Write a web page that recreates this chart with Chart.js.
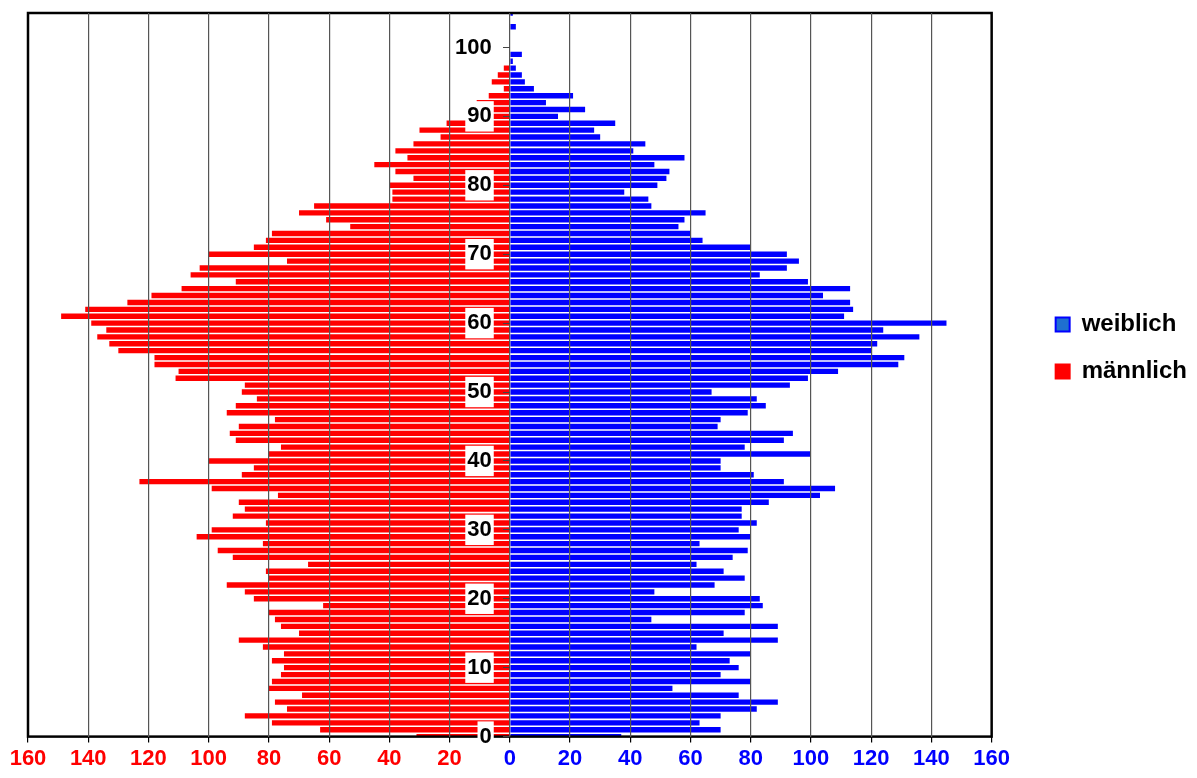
<!DOCTYPE html>
<html lang="de">
<head>
<meta charset="utf-8">
<title>Alterspyramide</title>
<script src="https://cdn.jsdelivr.net/npm/chart.js@4.4.1/dist/chart.umd.min.js"></script>
<style>
    html, body { margin: 0; padding: 0; background: #fff; }
    #wrap { position: relative; width: 1197px; height: 778px; }
</style>
</head>
<body>
<div id="wrap"><canvas id="pyramid"></canvas></div>
<script>
/* Alterspyramide: Einwohner je Altersjahr, Männer links, Frauen rechts. */

const AGES = [
    0, 1, 2, 3, 4, 5, 6, 7, 8, 9,
    10, 11, 12, 13, 14, 15, 16, 17, 18, 19,
    20, 21, 22, 23, 24, 25, 26, 27, 28, 29,
    30, 31, 32, 33, 34, 35, 36, 37, 38, 39,
    40, 41, 42, 43, 44, 45, 46, 47, 48, 49,
    50, 51, 52, 53, 54, 55, 56, 57, 58, 59,
    60, 61, 62, 63, 64, 65, 66, 67, 68, 69,
    70, 71, 72, 73, 74, 75, 76, 77, 78, 79,
    80, 81, 82, 83, 84, 85, 86, 87, 88, 89,
    90, 91, 92, 93, 94, 95, 96, 97, 98, 99,
    100, 101, 102, 103, 104, 105,
];

const WEIBLICH = [
    37, 70, 63, 70, 82, 89, 76, 54, 80, 70,
    76, 73, 80, 62, 89, 71, 89, 47, 78, 84,
    83, 48, 68, 78, 71, 62, 74, 79, 63, 80,
    76, 82, 77, 77, 86, 103, 108, 91, 81, 70,
    70, 100, 78, 91, 94, 69, 70, 79, 85, 82,
    67, 93, 99, 109, 129, 131, 120, 122, 136, 124,
    145, 111, 114, 113, 104, 113, 99, 83, 92, 96,
    92, 80, 64, 60, 56, 58, 65, 47, 46, 38,
    49, 52, 53, 48, 58, 41, 45, 30, 28, 35,
    16, 25, 12, 21, 8, 5, 4, 2, 1, 4,
    0, 0, 0, 2, 0, 1,
];

const MAENNLICH = [
    31, 63, 79, 88, 74, 78, 69, 80, 79, 76,
    75, 79, 75, 82, 90, 70, 76, 78, 80, 62,
    85, 88, 94, 80, 81, 67, 92, 97, 82, 104,
    99, 81, 92, 88, 90, 77, 99, 123, 89, 85,
    100, 80, 76, 91, 93, 90, 78, 94, 91, 84,
    89, 88, 111, 110, 118, 118, 130, 133, 137, 134,
    139, 149, 141, 127, 119, 109, 91, 106, 103, 74,
    100, 85, 81, 79, 53, 61, 70, 65, 39, 39,
    40, 32, 38, 45, 34, 38, 32, 23, 30, 21,
    10, 6, 11, 7, 2, 6, 4, 2, 0, 0,
    0, 0, 0, 0, 0, 0,
];

const RED = '#ff0000';
const BLUE = '#0000ff';
const GRID = '#555';
const CLEAR = 'rgba(0,0,0,0)';
const LEGEND_FILL = ['#1f6fd0', RED];

Chart.defaults.font.family = '"Liberation Sans", Arial, sans-serif';
Chart.defaults.color = '#000';

const isDecade = (i) => AGES[i] % 10 === 0;

// schwarzer Rahmen um die Zeichenfläche
const frame = {
    id: 'frame',
    afterDatasetsDraw(chart) {
        const { ctx, chartArea: a } = chart;
        ctx.save();
        ctx.strokeStyle = '#000';
        ctx.lineWidth = 2.5;
        ctx.strokeRect(a.left, a.top, a.right - a.left, a.bottom - a.top);
        ctx.restore();
    },
};

new Chart(document.getElementById('pyramid'), {
    type: 'bar',
    data: {
        labels: AGES,
        datasets: [
            { label: 'weiblich', data: WEIBLICH, backgroundColor: BLUE },
            { label: 'männlich', data: MAENNLICH.map((v) => -v), backgroundColor: RED },
        ],
    },
    options: {
        indexAxis: 'y',
        responsive: true,
        maintainAspectRatio: false,
        animation: false,
        layout: { padding: { left: 28, top: 13, right: 0, bottom: 3 } },
        datasets: {
            bar: { grouped: false, barPercentage: 0.78, categoryPercentage: 1, borderWidth: 0, clip: 0 },
        },
        plugins: {
            tooltip: { enabled: false },
            legend: {
                position: 'right',
                align: 'start',
                title: { display: true, text: '', font: { size: 12 }, padding: { top: 262, bottom: 0 } },
                labels: {
                    boxWidth: 14,
                    boxHeight: 14,
                    padding: 23,
                    color: '#000',
                    font: { size: 24, weight: 'bold' },
                    generateLabels: (chart) => chart.data.datasets.map((ds, i) => ({
                        text: ds.label,
                        fillStyle: LEGEND_FILL[i],
                        strokeStyle: ds.backgroundColor,
                        lineWidth: 2,
                        hidden: false,
                        datasetIndex: i,
                    })),
                },
            },
        },
        scales: {
            x: {
                min: -160,
                max: 160,
                ticks: {
                    stepSize: 20,
                    padding: 3,
                    callback: (v) => Math.abs(v),
                    color: (c) => (c.tick.value < 0 ? RED : BLUE),
                    font: { size: 22, weight: 'bold' },
                },
                grid: {
                    z: 1,
                    color: (c) => (Math.abs(c.tick.value) === 160 ? CLEAR : GRID),
                    tickColor: '#000',
                    tickLength: 6,
                    lineWidth: 1.2,
                },
                border: { display: false },
            },
            y: {
                type: 'category',
                reverse: true,
                offset: false,
                // Beschriftung links neben der Nulllinie
                position: { x: -6 },
                ticks: {
                    autoSkip: false,
                    z: 1,
                    padding: 0,
                    callback: (v, i) => (isDecade(i) ? String(AGES[i]) : ''),
                    // leere Zwischenlabels klein halten, damit sie keinen Rand beanspruchen
                    font: (c) => (isDecade(c.index) ? { size: 22, weight: 'bold' } : { size: 1 }),
                    color: '#000',
                    showLabelBackdrop: (c) => isDecade(c.index),
                    backdropColor: '#fff',
                    backdropPadding: 2,
                },
                grid: {
                    offset: false,
                    drawOnChartArea: false,
                    z: 1,
                    // Striche nach rechts bis zur Nulllinie, nur die letzten 7 px sichtbar
                    tickLength: -18,
                    tickBorderDash: [0, 11, 7, 50],
                    tickColor: (c) => (isDecade(c.index) ? '#444' : CLEAR),
                },
                border: { display: false },
            },
            spacer: {
                type: 'linear',
                axis: 'y',
                position: 'right',
                afterFit: (s) => { s.width = 41; },
                ticks: { display: false },
                grid: { display: false },
                border: { display: false },
            },
        },
    },
    plugins: [frame],
});
</script>
</body>
</html>
